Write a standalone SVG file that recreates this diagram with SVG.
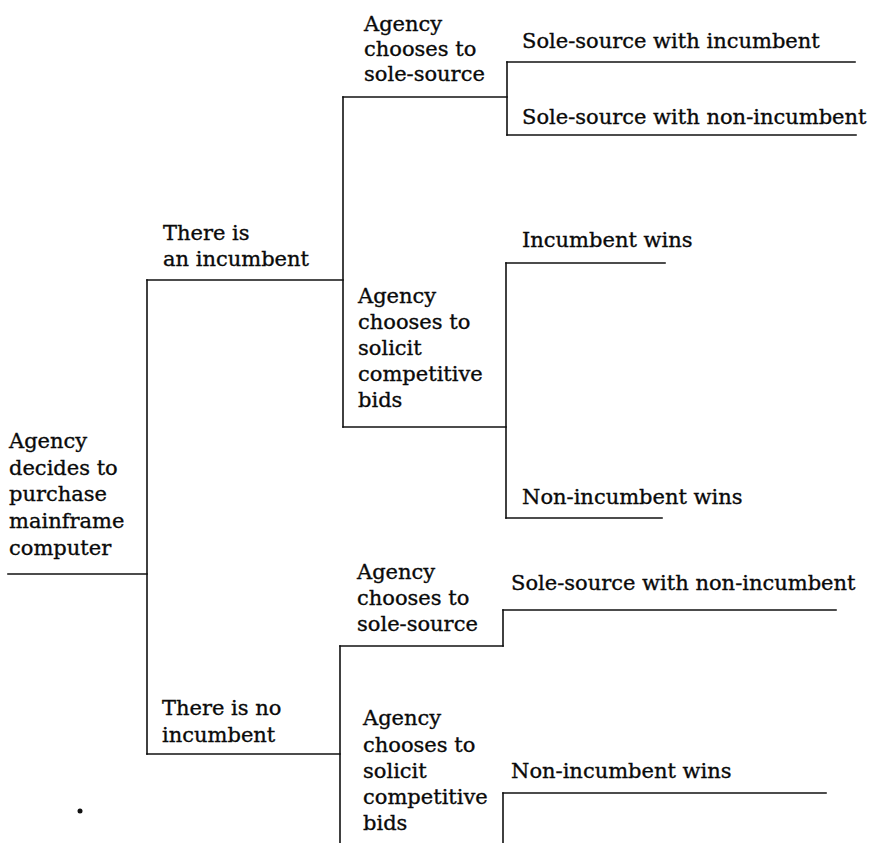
<svg xmlns="http://www.w3.org/2000/svg" width="872" height="843" viewBox="0 0 872 843">
<style>
  text { font-family: "DejaVu Serif", "Liberation Serif", serif; font-size: 21px; fill: #0a0a0a; stroke: #0a0a0a; stroke-width: 0.35; }
  .c line { stroke: #111; stroke-width: 1.6; stroke-linecap: square; }
</style>
<rect width="872" height="843" fill="#fff"/>
<g class="c" id="connectors">
  <line x1="8" y1="574" x2="147" y2="574"/>
  <line x1="147" y1="280" x2="147" y2="754"/>
  <line x1="147" y1="280" x2="343" y2="280"/>
  <line x1="343" y1="97" x2="343" y2="427"/>
  <line x1="343" y1="97" x2="507" y2="97"/>
  <line x1="507" y1="62" x2="507" y2="135"/>
  <line x1="507" y1="62" x2="855" y2="62"/>
  <line x1="507" y1="135" x2="856" y2="135"/>
  <line x1="343" y1="427" x2="506" y2="427"/>
  <line x1="506" y1="263" x2="506" y2="518"/>
  <line x1="506" y1="263" x2="665" y2="263"/>
  <line x1="506" y1="518" x2="662" y2="518"/>
  <line x1="147" y1="754" x2="340" y2="754"/>
  <line x1="340" y1="646" x2="340" y2="843"/>
  <line x1="340" y1="646" x2="503" y2="646"/>
  <line x1="503" y1="610" x2="503" y2="646"/>
  <line x1="503" y1="610" x2="836" y2="610"/>
  <line x1="503" y1="793" x2="503" y2="843"/>
  <line x1="503" y1="793" x2="826" y2="793"/>
</g>
<g id="root">
  <text x="9" y="448">Agency</text>
  <text x="9" y="475">decides to</text>
  <text x="9" y="501">purchase</text>
  <text x="9" y="528">mainframe</text>
  <text x="9" y="555">computer</text>
</g>
<g id="incumbent">
  <text x="163" y="240">There is</text>
  <text x="163" y="266">an incumbent</text>
</g>
<g id="sole1">
  <text x="364" y="31">Agency</text>
  <text x="364" y="56">chooses to</text>
  <text x="364" y="81">sole-source</text>
</g>
<g id="out1"><text x="522" y="48">Sole-source with incumbent</text></g>
<g id="out2"><text x="522" y="124">Sole-source with non-incumbent</text></g>
<g id="comp1">
  <text x="358" y="303">Agency</text>
  <text x="358" y="329">chooses to</text>
  <text x="358" y="355">solicit</text>
  <text x="358" y="381">competitive</text>
  <text x="358" y="407">bids</text>
</g>
<g id="out3"><text x="522" y="247">Incumbent wins</text></g>
<g id="out4"><text x="522" y="504">Non-incumbent wins</text></g>
<g id="noinc">
  <text x="162" y="715">There is no</text>
  <text x="162" y="742">incumbent</text>
</g>
<g id="sole2">
  <text x="357" y="579">Agency</text>
  <text x="357" y="605">chooses to</text>
  <text x="357" y="631">sole-source</text>
</g>
<g id="out5"><text x="511" y="590">Sole-source with non-incumbent</text></g>
<g id="comp2">
  <text x="363" y="725">Agency</text>
  <text x="363" y="752">chooses to</text>
  <text x="363" y="778">solicit</text>
  <text x="363" y="804">competitive</text>
  <text x="363" y="830">bids</text>
</g>
<g id="out6"><text x="511" y="778">Non-incumbent wins</text></g>
<circle cx="80" cy="811" r="2.5" fill="#111"/>
</svg>
